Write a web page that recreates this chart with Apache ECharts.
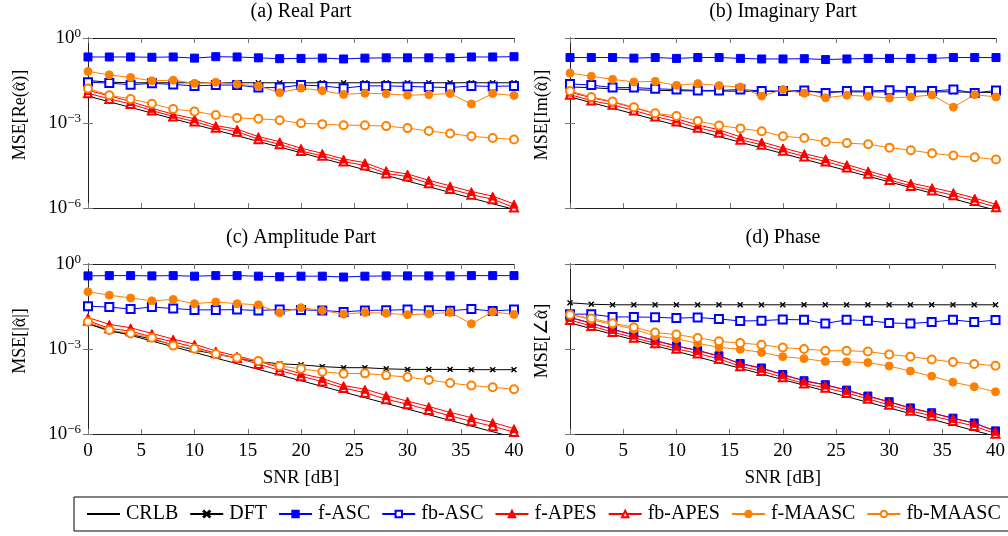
<!DOCTYPE html>
<html>
<head>
<meta charset="utf-8">
<script src="https://cdn.jsdelivr.net/npm/echarts@6/dist/echarts.min.js"></script>
<style>
  html, body { margin: 0; padding: 0; background: #fff; }
  #chart { width: 1008px; height: 536px; }
</style>
</head>
<body>
<div id="chart"></div>
<script>
// SNR sweep in dB
const snr = [0, 2, 4, 6, 8, 10, 12, 14, 16, 18, 20, 22, 24, 26, 28, 30, 32, 34, 36, 38, 40];

// All MSE curves are given as log10(MSE), one entry per SNR point.
// (a) Real part
const reCRLB   = [-2.05,-2.25,-2.45,-2.65,-2.85,-3.05,-3.25,-3.45,-3.65,-3.85,-4.05,-4.25,-4.45,-4.65,-4.85,-5.05,-5.25,-5.45,-5.65,-5.85,-6.05];
const reDFT    = [-1.50,-1.56,-1.58,-1.58,-1.58,-1.58,-1.58,-1.58,-1.58,-1.58,-1.58,-1.58,-1.58,-1.58,-1.58,-1.58,-1.58,-1.58,-1.58,-1.58,-1.58];
const reFASC   = [-0.67,-0.67,-0.67,-0.68,-0.67,-0.71,-0.66,-0.67,-0.70,-0.73,-0.72,-0.71,-0.74,-0.71,-0.70,-0.70,-0.70,-0.70,-0.67,-0.67,-0.66];
const reFbASC  = [-1.56,-1.59,-1.65,-1.60,-1.64,-1.69,-1.66,-1.66,-1.75,-1.75,-1.66,-1.69,-1.77,-1.69,-1.69,-1.71,-1.73,-1.75,-1.69,-1.71,-1.69];
const reFAPES  = [-1.85,-2.04,-2.24,-2.48,-2.69,-2.85,-3.09,-3.22,-3.48,-3.66,-3.89,-4.07,-4.27,-4.40,-4.68,-4.80,-5.02,-5.22,-5.42,-5.58,-5.86];
const reFbAPES = [-1.95,-2.15,-2.33,-2.56,-2.77,-2.95,-3.17,-3.31,-3.57,-3.75,-3.99,-4.16,-4.36,-4.50,-4.78,-4.89,-5.13,-5.33,-5.53,-5.69,-5.98];
const reFMA    = [-1.18,-1.30,-1.39,-1.51,-1.49,-1.60,-1.56,-1.63,-1.69,-1.93,-1.77,-1.86,-1.99,-1.95,-1.97,-2.02,-2.00,-1.96,-2.33,-1.96,-2.03];
const reFbMA   = [-1.78,-2.02,-2.15,-2.32,-2.51,-2.59,-2.72,-2.82,-2.85,-2.90,-3.01,-3.04,-3.08,-3.08,-3.11,-3.18,-3.28,-3.37,-3.47,-3.53,-3.58];

// (b) Imaginary part
const imCRLB   = [-2.08,-2.28,-2.48,-2.68,-2.88,-3.08,-3.28,-3.48,-3.68,-3.88,-4.08,-4.28,-4.48,-4.68,-4.88,-5.08,-5.28,-5.48,-5.68,-5.88,-6.08];
const imDFT    = [-1.73,-1.75,-1.80,-1.82,-1.85,-1.86,-1.87,-1.87,-1.88,-1.88,-1.89,-1.89,-1.90,-1.90,-1.90,-1.90,-1.90,-1.90,-1.90,-1.92,-1.92];
const imFASC   = [-0.69,-0.69,-0.69,-0.71,-0.69,-0.72,-0.69,-0.69,-0.72,-0.74,-0.74,-0.73,-0.76,-0.74,-0.72,-0.72,-0.72,-0.72,-0.69,-0.69,-0.69];
const imFbASC  = [-1.62,-1.66,-1.75,-1.75,-1.79,-1.82,-1.85,-1.85,-1.82,-1.87,-1.87,-1.85,-1.94,-1.87,-1.87,-1.84,-1.87,-1.87,-1.82,-1.94,-1.85];
const imFAPES  = [-1.91,-2.11,-2.26,-2.46,-2.67,-2.85,-3.07,-3.24,-3.49,-3.67,-3.88,-4.08,-4.26,-4.47,-4.69,-4.91,-5.12,-5.28,-5.45,-5.65,-5.87];
const imFbAPES = [-2.00,-2.21,-2.36,-2.56,-2.77,-2.95,-3.17,-3.34,-3.59,-3.77,-3.98,-4.18,-4.36,-4.57,-4.79,-5.01,-5.22,-5.38,-5.55,-5.75,-5.97];
const imFMA    = [-1.24,-1.35,-1.46,-1.55,-1.53,-1.67,-1.61,-1.68,-1.73,-2.05,-1.82,-1.95,-2.11,-2.02,-2.06,-2.12,-2.08,-2.01,-2.44,-2.00,-2.08];
const imFbMA   = [-1.87,-2.08,-2.24,-2.44,-2.66,-2.75,-2.93,-3.09,-3.19,-3.29,-3.47,-3.53,-3.67,-3.71,-3.75,-3.87,-3.96,-4.07,-4.15,-4.21,-4.29];

// (c) Amplitude
const amCRLB   = [-2.12,-2.32,-2.52,-2.72,-2.92,-3.12,-3.32,-3.52,-3.72,-3.92,-4.12,-4.32,-4.52,-4.72,-4.92,-5.12,-5.32,-5.52,-5.72,-5.92,-6.12];
const amDFT    = [-2.10,-2.37,-2.49,-2.65,-2.85,-3.04,-3.18,-3.32,-3.45,-3.52,-3.56,-3.62,-3.66,-3.66,-3.70,-3.72,-3.72,-3.72,-3.73,-3.73,-3.73];
const amFASC   = [-0.42,-0.41,-0.41,-0.42,-0.41,-0.43,-0.41,-0.41,-0.43,-0.45,-0.43,-0.43,-0.46,-0.43,-0.42,-0.42,-0.42,-0.42,-0.41,-0.41,-0.41];
const amFbASC  = [-1.49,-1.52,-1.59,-1.52,-1.57,-1.62,-1.62,-1.61,-1.64,-1.61,-1.62,-1.64,-1.69,-1.64,-1.63,-1.61,-1.63,-1.65,-1.59,-1.66,-1.61];
const amFAPES  = [-1.89,-2.13,-2.25,-2.45,-2.65,-2.83,-3.07,-3.25,-3.43,-3.66,-3.87,-4.04,-4.29,-4.42,-4.64,-4.84,-5.03,-5.24,-5.42,-5.59,-5.81];
const amFbAPES = [-2.00,-2.27,-2.37,-2.57,-2.75,-2.94,-3.15,-3.32,-3.53,-3.76,-3.96,-4.15,-4.38,-4.54,-4.77,-4.95,-5.15,-5.36,-5.55,-5.73,-5.93];
const amFMA    = [-0.98,-1.10,-1.20,-1.30,-1.25,-1.40,-1.34,-1.40,-1.44,-1.72,-1.54,-1.64,-1.77,-1.71,-1.74,-1.79,-1.76,-1.71,-2.11,-1.69,-1.78];
const amFbMA   = [-2.04,-2.33,-2.45,-2.60,-2.88,-2.99,-3.18,-3.31,-3.42,-3.60,-3.70,-3.80,-3.87,-3.86,-3.93,-3.99,-4.09,-4.20,-4.29,-4.35,-4.42];

// (d) Phase
const phCRLB   = [-2.08,-2.28,-2.48,-2.68,-2.88,-3.08,-3.28,-3.48,-3.68,-3.88,-4.08,-4.28,-4.48,-4.68,-4.88,-5.08,-5.28,-5.48,-5.68,-5.88,-6.08];
const phDFT    = [-1.37,-1.42,-1.44,-1.44,-1.44,-1.44,-1.44,-1.44,-1.44,-1.44,-1.44,-1.44,-1.44,-1.44,-1.44,-1.44,-1.44,-1.44,-1.44,-1.44,-1.44];
const phFASC   = [-1.88,-2.09,-2.30,-2.50,-2.70,-2.89,-3.05,-3.24,-3.51,-3.67,-3.90,-4.12,-4.26,-4.45,-4.66,-4.86,-5.08,-5.25,-5.44,-5.61,-5.89];
const phFbASC  = [-1.77,-1.77,-1.87,-1.87,-1.88,-1.91,-1.89,-1.94,-2.01,-2.00,-1.96,-1.97,-2.10,-1.97,-2.00,-2.08,-2.10,-2.05,-1.97,-2.05,-1.98];
const phFAPES  = [-1.89,-2.10,-2.31,-2.51,-2.71,-2.90,-3.06,-3.25,-3.52,-3.68,-3.91,-4.13,-4.27,-4.46,-4.67,-4.87,-5.09,-5.26,-5.45,-5.62,-5.90];
const phFbAPES = [-1.98,-2.19,-2.40,-2.60,-2.80,-2.99,-3.16,-3.35,-3.61,-3.78,-4.00,-4.22,-4.37,-4.55,-4.76,-4.97,-5.18,-5.36,-5.54,-5.72,-5.99];
const phFMA    = [-1.77,-1.97,-2.13,-2.30,-2.54,-2.64,-2.80,-2.94,-3.01,-3.12,-3.27,-3.34,-3.44,-3.45,-3.48,-3.60,-3.78,-3.96,-4.17,-4.33,-4.51];
const phFbMA   = [-1.79,-1.92,-2.09,-2.23,-2.42,-2.49,-2.61,-2.73,-2.79,-2.85,-2.95,-3.00,-3.06,-3.06,-3.09,-3.19,-3.27,-3.37,-3.46,-3.53,-3.59];

const methodNames = ['CRLB', 'DFT', 'f-ASC', 'fb-ASC', 'f-APES', 'fb-APES', 'f-MAASC', 'fb-MAASC'];
const panelTitles = ['(a) Real Part', '(b) Imaginary Part', '(c) Amplitude Part', '(d) Phase'];
// y labels as [text before alpha, text after alpha]; the alpha gets a hat drawn over it
const panelYNames = [
  ['MSE[Re(', ')]'],
  ['MSE[Im(', ')]'],
  ['MSE[|', '|]'],
  ['MSE[\u2220', ']']
];
const panelData = [
  [reCRLB, reDFT, reFASC, reFbASC, reFAPES, reFbAPES, reFMA, reFbMA],
  [imCRLB, imDFT, imFASC, imFbASC, imFAPES, imFbAPES, imFMA, imFbMA],
  [amCRLB, amDFT, amFASC, amFbASC, amFAPES, amFbAPES, amFMA, amFbMA],
  [phCRLB, phDFT, phFASC, phFbASC, phFAPES, phFbAPES, phFMA, phFbMA]
];

const FONT = 'Liberation Serif';
const BLUE = '#0000ff', RED = '#ff0000', ORANGE = '#ff8000';
const CROSS = 'path://M0,1L1,0L5,4L9,0L10,1L6,5L10,9L9,10L5,6L1,10L0,9L4,5Z';

// marker style and stacking order per method (filled triangles sit above the open ones)
const markStyle = {
  'CRLB':     { color: '#000', symbol: 'none', size: 0, z: 2 },
  'DFT':      { color: '#000', symbol: CROSS, size: 5, z: 3 },
  'f-ASC':    { color: BLUE, symbol: 'rect', size: 8, z: 4 },
  'fb-ASC':   { color: BLUE, symbol: 'emptyRect', size: 8, z: 5 },
  'f-APES':   { color: RED, symbol: 'triangle', size: 8, z: 7 },
  'fb-APES':  { color: RED, symbol: 'emptyTriangle', size: 8, z: 6 },
  'f-MAASC':  { color: ORANGE, symbol: 'circle', size: 8, z: 8 },
  'fb-MAASC': { color: ORANGE, symbol: 'emptyCircle', size: 8, z: 9 }
};

// plot boxes: [left, top] with a shared size
const boxes = [[88, 38], [570, 38], [88, 264], [570, 264]];
const BOX_W = 426, BOX_H = 170;
const YNAME_SIZE = 18;

// text measuring for placing the hat over the alpha in the rotated y labels
const measureCtx = document.createElement('canvas').getContext('2d');
function textWidth(t) {
  measureCtx.font = YNAME_SIZE + 'px "' + FONT + '"';
  return measureCtx.measureText(t).width;
}

const grids = [], xAxes = [], yAxes = [], series = [], graphics = [];

function supLabel(v) {
  const e = Math.round(Math.log10(v));
  const s = e === 0 ? '0' : '\u2212' + Math.abs(e);
  return '{b|10}{s|' + s + '}';
}

boxes.forEach((b, p) => {
  grids.push({ left: b[0], top: b[1], width: BOX_W, height: BOX_H, containLabel: false });
  const isBottom = p >= 2, isLeft = p % 2 === 0;
  const frame = { show: true, lineStyle: { color: '#222', width: 1 } };
  const tick = { show: true, inside: true, length: 5, lineStyle: { color: '#777', width: 1 } };
  // bottom x axis
  xAxes.push({
    gridIndex: p, type: 'value', min: 0, max: 40, interval: 5, position: 'bottom',
    axisLine: frame, axisTick: tick, splitLine: { show: false },
    axisLabel: { show: isBottom, fontFamily: FONT, fontSize: 19, color: '#000', margin: 8 },
    name: isBottom ? 'SNR [dB]' : '', nameLocation: 'middle', nameGap: 35,
    nameTextStyle: { fontFamily: FONT, fontSize: 19, color: '#000' }
  });
  // top x axis (frame + mirrored ticks)
  xAxes.push({
    gridIndex: p, type: 'value', min: 0, max: 40, interval: 5, position: 'top',
    axisLine: frame, axisTick: tick, splitLine: { show: false }, axisLabel: { show: false }
  });
  // left y axis
  yAxes.push({
    gridIndex: p, type: 'log', logBase: 10, min: 1e-6, max: 1, interval: 3, position: 'left',
    axisLine: frame, axisTick: tick, splitLine: { show: false }, minorTick: { show: false },
    axisLabel: {
      show: isLeft, margin: 7, formatter: supLabel,
      rich: {
        b: { fontFamily: FONT, fontSize: 19, color: '#000' },
        s: { fontFamily: FONT, fontSize: 13, color: '#000', padding: [0, 0, 9, 0] }
      }
    }
  });
  // right y axis (frame + mirrored ticks)
  yAxes.push({
    gridIndex: p, type: 'log', logBase: 10, min: 1e-6, max: 1, interval: 3, position: 'right',
    axisLine: frame, axisTick: tick, splitLine: { show: false }, axisLabel: { show: false }
  });

  methodNames.forEach((name, k) => {
    const st = markStyle[name];
    const vals = panelData[p][k];
    series.push({
      name: name, type: 'line', xAxisIndex: 2 * p, yAxisIndex: 2 * p,
      data: snr.map((x, i) => [x, Math.pow(10, vals[i])]),
      symbol: st.symbol, symbolSize: st.size, showSymbol: st.symbol !== 'none', showAllSymbol: true,
      lineStyle: { color: st.color, width: 1 },
      itemStyle: { color: st.color, borderColor: st.color, borderWidth: 1 },
      emphasis: { disabled: true }, animation: false, clip: true, z: st.z
    });
  });

  // panel title
  graphics.push({
    type: 'text', x: b[0] + BOX_W / 2, y: b[1] - 36,
    style: { text: panelTitles[p], font: '20px "' + FONT + '"', fill: '#000', textAlign: 'center', textVerticalAlign: 'top' }
  });

  // rotated y label, read bottom to top
  const pre = panelYNames[p][0], post = panelYNames[p][1];
  const full = pre + '\u03B1' + post;
  const cx = isLeft ? 20 : 542, cy = b[1] + BOX_H / 2 - 8;
  graphics.push({
    type: 'text', x: cx, y: cy, rotation: Math.PI / 2,
    style: {
      text: full, font: YNAME_SIZE + 'px "' + FONT + '"', fill: '#000',
      textAlign: 'center', textVerticalAlign: 'middle'
    }
  });
  // hat over the alpha (points to the left because the label is rotated)
  const W = textWidth(full);
  const alphaMid = -W / 2 + textWidth(pre) + textWidth('\u03B1') / 2;
  const ay = cy - alphaMid;
  graphics.push({
    type: 'polyline', z: 10,
    shape: { points: [[cx - 4.2, ay - 2.8], [cx - 7.4, ay], [cx - 4.2, ay + 2.8]] },
    style: { stroke: '#000', lineWidth: 0.9, fill: null }
  });
});

const chart = echarts.init(document.getElementById('chart'), null, { renderer: 'canvas' });
chart.setOption({
  backgroundColor: '#fff',
  animation: false,
  grid: grids,
  xAxis: xAxes,
  yAxis: yAxes,
  series: series,
  graphic: graphics,
  legend: {
    data: methodNames.map(n => n === 'CRLB' ? { name: n, itemStyle: { opacity: 0 } } : n),
    left: 74, top: 497, width: 925, orient: 'horizontal',
    borderColor: '#000', borderWidth: 1, borderRadius: 0, padding: [7, 8, 7, 12],
    itemGap: 11, itemWidth: 33, itemHeight: 8,
    textStyle: { fontFamily: FONT, fontSize: 20, color: '#000', padding: [0, 0, 0, 1] },
    selectedMode: false
  }
});
</script>
</body>
</html>
